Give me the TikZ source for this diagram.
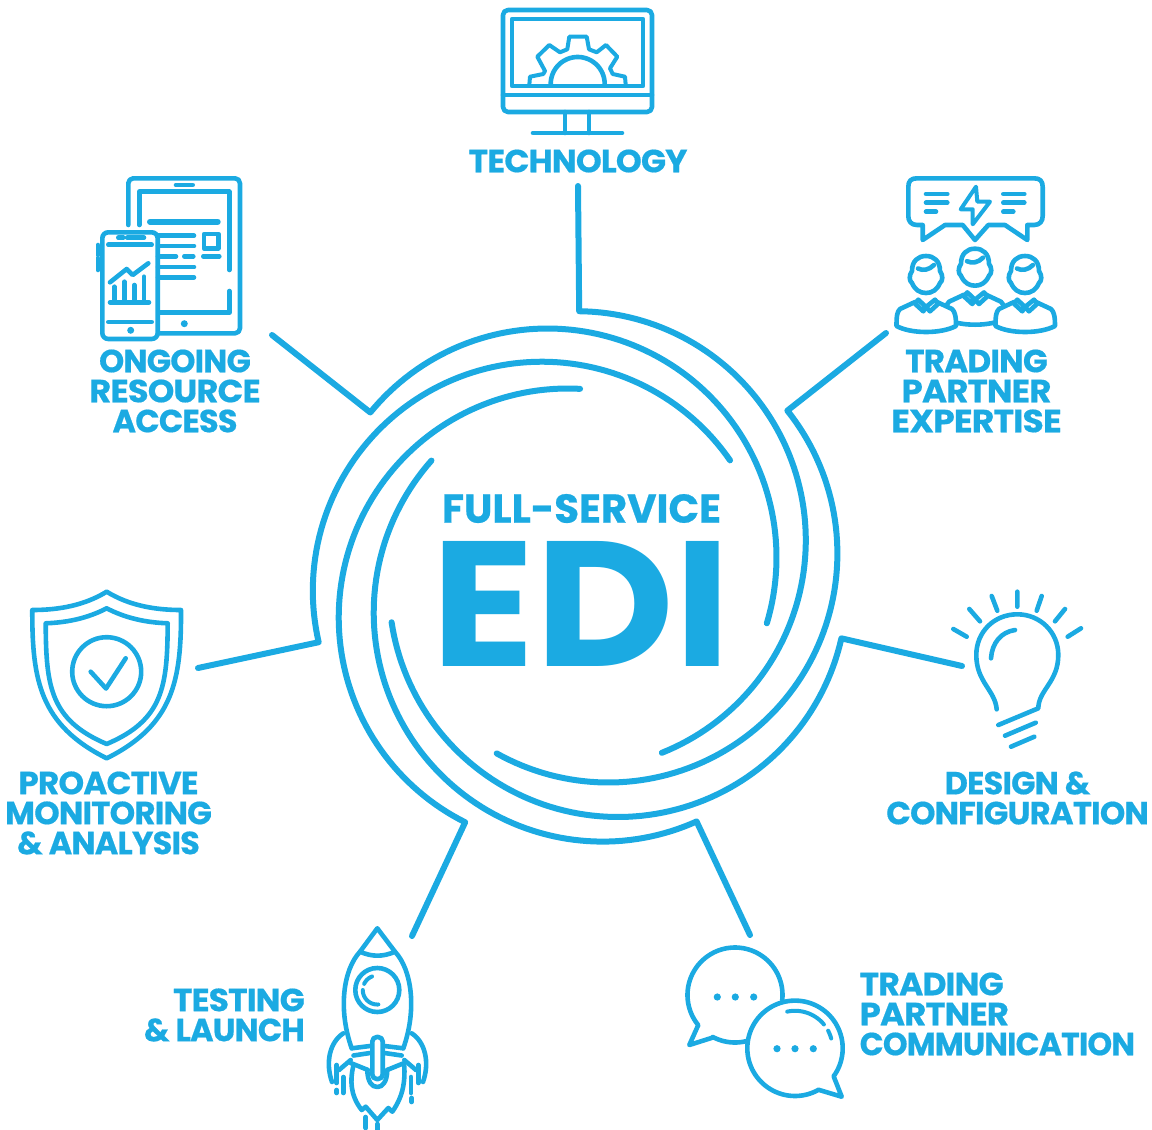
\documentclass[tikz,border=0pt]{standalone}
\usepackage{fontspec}
\usepackage{graphicx}
\setmainfont{Poppins}
\definecolor{edi}{HTML}{1BAAE2}
\newcommand{\ringarc}[6][]{\draw[ring,#1] #2 -- plot[domain=#3:#4,samples=90] ({#5+229*cos(\x)},{#6+229*sin(\x)});}
\newcommand{\cirarc}[5]{plot[domain=#4:#5,samples=40] ({#1+#3*cos(\x)},{#2+#3*sin(\x)})}
\newcommand{\hs}[2]{\scalebox{#1}[1]{#2}}
\newcommand{\person}[3]{%
 \begin{scope}[shift={(#1,#2)}]
  \draw[icon,fill=white] (-11,28) -- (-26,35) .. controls (-29,38) and (-29.5,42) .. (-29.5,52) .. controls (-15,60) and (15,60) .. (30,52) .. controls (30,42) and (29,38) .. (26,35) -- (11,28);
  \draw[icon,fill=white] (-7.7,25.7) -- (-11,29.7) -- (-2.7,37.3) -- (0,33) -- (4,37.3) -- (12.3,29.7) -- (9,25.7) -- (0,33) -- cycle;
  \draw[icon,fill=white] (-14,-3) .. controls (-14,-13) and (-8,-18) .. (0,-18) .. controls (8,-18) and (14,-13) .. (14,-3) .. controls (17,1) and (17,7) .. (14,9) .. controls (11,16) and (6,19) .. (0,19) .. controls (-6,19) and (-11,16) .. (-14,9) .. controls (-17,7) and (-17,1) .. (-14,-3) -- cycle;
  \draw[icon] (-8,-5.5) .. controls (-3,-3) and (3,-4) .. (8,-9);
 \end{scope}}
\tikzset{
 ring/.style={draw=edi,line width=6pt,line cap=round,line join=round},
 icon/.style={draw=edi,line width=4.6pt,line cap=round,line join=round},
 thin icon/.style={draw=edi,line width=4pt,line cap=round,line join=round},
 dot/.style={fill=edi,draw=none},
 lab/.style={text=edi,inner sep=0pt,font=\fontsize{32}{30}\selectfont\bfseries\addfontfeatures{LetterSpace=-2.5,FakeBold=0.5}},
 big/.style={text=edi,inner sep=0pt,font=\bfseries},
 bigbold/.style={text=edi,inner sep=0pt,font=\bfseries\addfontfeatures{FakeBold=0.5}}
}
\begin{document}
\begin{tikzpicture}[x=1pt,y=-1pt]
\useasboundingbox (0,0) rectangle (1152,1130);
% centre
\node[big] (edi) at (581.5,603.5) {\resizebox*{299pt}{125pt}{EDI}};
\node[bigbold] (full) at (581.5,508.5) {\resizebox*{279pt}{29pt}{FULL-SERVICE}};
% free ends of the spokes
\coordinate (tipT) at (578,186);
\coordinate (tipTP) at (886,333);
\coordinate (tipD) at (962,666);
\coordinate (tipC) at (750,935);
\coordinate (tipL) at (412,936);
\coordinate (tipM) at (198,668);
\coordinate (tipO) at (272,335);
% spokes and rings
\ringarc{(tipT)}{-89.4}{68.2}{576.8}{540.2}
\ringarc{(tipTP)}{-38.6}{119.2}{608.4}{553.5}
\ringarc{(tipD)}{12.7}{171.4}{618}{588}
\ringarc{(tipC)}{65.8}{221.6}{602.7}{612.6}
\ringarc{(tipL)}{116.6}{273.1}{567.7}{617.5}
\ringarc{(tipM)}{167}{325.3}{541.8}{590.7}
\ringarc{(tipO)}{219.3}{376.7}{547.5}{557.5}
% labels
\node[lab] (l1) at (578,161) {\hs{1.03}{TECHNOLOGY}};
\node[lab,align=center] (l2) at (175,391) {ONGOING\\\hs{1.055}{RESOURCE}\\ACCESS};
\node[lab,align=center] (l3) at (976.5,391) {\hs{1.02}{TRADING}\\\hs{1.065}{PARTNER}\\\hs{1.083}{EXPERTISE}};
\node[lab,align=center] (l4) at (108.5,813) {\hs{1.02}{PROACTIVE}\\\hs{1.015}{MONITORING}\\\& ANALYSIS};
\node[lab,align=center] (l5) at (1017.5,798) {DESIGN \&\\\hs{1.01}{CONFIGURATION}};
\node[lab,align=right,anchor=east] (l6) at (305,1015) {\hs{1.03}{TESTING}\\\& LAUNCH};
\node[lab,align=left,anchor=west] (l7) at (859.5,1014) {\hs{1.03}{TRADING}\\\hs{1.06}{PARTNER}\\\hs{0.982}{COMMUNICATION}};
% monitor
\draw[icon,rounded corners=5pt] (503,10) rectangle (652,112);
\draw[icon] (503,95) -- (652,95);
\draw[icon] (512,19) rectangle (643,86);
\draw[icon] (565,112) -- (565,133) (589,112) -- (589,133);
\draw[icon] (533,133) -- (622,133);
\draw[thin icon] (529.3,85) -- (530,76.7) -- (543.3,74) -- (545,71) -- (537.3,56.7) -- (549.3,45) -- (560,52.3) -- (567.3,49.3) -- (569.3,36.7) -- (586.7,36.7) -- (589,49.3) -- (596.7,52.3) -- (606,45) -- (617.3,56.7) -- (610,68.3) -- (612.7,74) -- (625,76.7) -- (625.7,85);
\draw[icon] \cirarc{577.7}{84}{27}{180}{360};
% tablet
\draw[icon,rounded corners=5pt] (128.3,225) -- (128.3,178.3) -- (240,178.3) -- (240,333.3) -- (158,333.3);
\draw[icon] (176,185) -- (192.7,185);
\draw[icon] (139.3,225) -- (139.3,191.7) -- (229.3,191.7) -- (229.3,270);
\draw[icon] (229.3,291) -- (229.3,312.7) -- (160,312.7);
\fill[dot] (184.3,323.7) circle (3.5);
\draw[icon,line width=6pt] (150,221.7) -- (217.7,221.7);
\draw[icon] (158,235.7) -- (194,235.7) (158,246) -- (194,246) (158,256.3) -- (176,256.3) (184.3,256.3) -- (193.3,256.3) (203.3,256.3) -- (219.3,256.3) (158,267) -- (194,267) (158,277.3) -- (194,277.3);
\draw[icon] (204,234) rectangle (218.3,248.3);
\draw[icon,rounded corners=6pt] (102.3,232.3) rectangle (157.7,339);
\draw[icon] (118.3,237.7) -- (123.3,237.7) (127.3,237.7) -- (144,237.7) (108.3,244.7) -- (151.7,244.7) (108.3,322) -- (151.7,322);
\fill[dot] (130.7,330.3) circle (3.5);
\draw[icon] (98,245) -- (98,255) (98,258) -- (98,270);
\draw[icon] (110,282.3) -- (126.7,269) -- (132.7,275) -- (148.3,263.3);
\draw[icon] (114.3,286.7) -- (114.3,301.7) (124.3,281.7) -- (124.3,301.7) (134.3,285) -- (134.3,301.7) (144,276.7) -- (144,301.7) (110,302.3) -- (149,302.3);
% team
\draw[icon] (922.7,225) -- (922.7,240) -- (945,225) -- (962.7,225) -- (975,240) -- (988.3,225) -- (1005,225) -- (1027.3,240) -- (1027.3,225) -- (1034,225) .. controls (1040,225) and (1042.7,221) .. (1042.7,216) -- (1042.7,187) .. controls (1042.7,181) and (1040,178.3) .. (1034,178.3) -- (917,178.3) .. controls (911,178.3) and (908.3,181) .. (908.3,187) -- (908.3,216) .. controls (908.3,221) and (911,225) .. (917,225) -- cycle;
\draw[icon] (926,194) -- (947.3,194) (926,202.7) -- (947.3,202.7) (926,211.7) -- (936,211.7);
\draw[icon] (1003.3,194) -- (1024.3,194) (1003.3,202.7) -- (1024.3,202.7) (1003.3,211.7) -- (1013.3,211.7);
\draw[thin icon] (976,186.7) -- (960.7,209.3) -- (972.7,209.3) -- (972.7,224.3) -- (990,201.7) -- (977.3,201.7) -- cycle;
\person{975}{266.7}{}
\person{926}{274}{}
\person{1025}{274}{}
% shield
\draw[icon] (106.7,591.7) .. controls (85,605) and (60,610) .. (32.3,610) .. controls (32,680) and (40,725) .. (106.7,758.3) .. controls (173.4,725) and (181.4,680) .. (181,610) .. controls (153.4,610) and (128.4,605) .. (106.7,591.7) -- cycle;
\draw[icon] (106.7,608.3) .. controls (88,618) and (68,622.5) .. (45.7,623.3) .. controls (46,686) and (50,720) .. (106.7,744) .. controls (163.4,720) and (167.4,686) .. (167.7,623.3) .. controls (145.4,622.5) and (125.4,618) .. (106.7,608.3) -- cycle;
\draw[icon] (106.7,671.7) circle (34.5);
\draw[icon] (90.7,671.7) -- (106,688.5) -- (125.7,658.3);
% bulb
\draw[icon] (1017.3,591.7) -- (1017.3,606.7) (991.7,596) -- (997.3,610.7) (1041.7,596) -- (1036.7,610.7) (969.3,609) -- (980,621.3) (1065,609) -- (1055,621.3) (953.3,629) -- (966.7,636.7) (1081,628.3) -- (1067.7,636.7);
\draw[icon] (996.7,709.3) .. controls (995,690) and (976.3,682) .. (976.3,655) .. controls (976.3,632) and (994,614.3) .. (1017.3,614.3) .. controls (1040,614.3) and (1058.3,632) .. (1058.3,655) .. controls (1058.3,682) and (1038.5,690) .. (1038.3,708.3) -- (998.3,725);
\draw[icon] (1005,735.7) -- (1035.7,722.7) (1011,746.7) -- (1034.3,736.7);
\draw[icon] (991,658.3) .. controls (992,643) and (1001,632) .. (1015,630);
% rocket
\draw[icon] (351.7,1048.3) .. controls (338,1010) and (343,970) .. (360,951.7) -- (377.3,928.3) -- (395,951.7) .. controls (412,970) and (417,1010) .. (403.3,1048.3);
\draw[icon] (360,951.7) .. controls (372,957) and (383,957) .. (395,951.7);
\draw[icon] (377.3,990) circle (22);
\draw[thin icon] \cirarc{377.3}{990}{14.5}{205}{249};
\draw[thin icon] \cirarc{377.3}{990}{14.5}{86}{180};
\draw[icon] (351.7,1048.3) -- (370,1046) (384.5,1046) -- (403.3,1048.3);
\draw[icon] (353.5,1055.5) -- (370,1053) (384.5,1053) -- (401.7,1055.5);
\draw[icon] (350.7,1063) -- (368,1070) (404.3,1063) -- (387,1070);
\draw[icon,rounded corners=4.5pt] (372.3,1037) rectangle (382.7,1079);
\draw[icon] (367.3,1070) .. controls (367.5,1082) and (372,1087) .. (377.3,1087) .. controls (382.5,1087) and (387,1082) .. (387.3,1070);
\draw[icon] (353.3,1066) .. controls (350,1080) and (350,1095) .. (361.7,1110) -- (365.7,1106.7) -- (377.3,1120) -- (388.3,1108) -- (392.3,1111.7) .. controls (404,1095) and (405,1080) .. (404.3,1066);
\draw[icon] (343.3,1033.3) .. controls (330,1042) and (325,1062) .. (332,1082);
\draw[icon] (411.7,1033.3) .. controls (425,1042) and (430,1062) .. (423,1082);
\draw[icon] (336.7,1065) -- (336.7,1083) (343.3,1077) -- (343.3,1093) (336.7,1090) -- (336.7,1093) (418.3,1065) -- (418.3,1083) (411,1077) -- (411,1093) (411.7,1098) -- (411.7,1102);
\draw[icon] (339,1070) -- (350.7,1060) (416,1070) -- (404.3,1060);
\draw[icon] (365.7,1117) -- (365.7,1128) (377.3,1124) -- (377.3,1130);
% chat
\draw[icon] plot[domain=6:-219.3,samples=90] ({735+47.5*cos(\x)},{995+47.5*sin(\x)}) -- (689.3,1045) -- (712.3,1037.7) -- plot[domain=118:76.3,samples=20] ({735+47.5*cos(\x)},{995+47.5*sin(\x)});
\draw[icon] plot[domain=60.4:395.9,samples=90] ({795+47.7*cos(\x)},{1048.3+47.7*sin(\x)}) -- (841.7,1096.7) -- cycle;
\foreach \px/\py in {717.3/997,735.3/997,753.7/997,777/1048.7,795/1048.7,813.3/1048.7}{\fill[dot] (\px,\py) circle (3.6);}
\draw[thin icon] \cirarc{795}{1048.3}{37.5}{258}{320.5};
\draw[thin icon] \cirarc{795}{1048.3}{37.5}{332}{344.8};
\end{tikzpicture}
\end{document}
